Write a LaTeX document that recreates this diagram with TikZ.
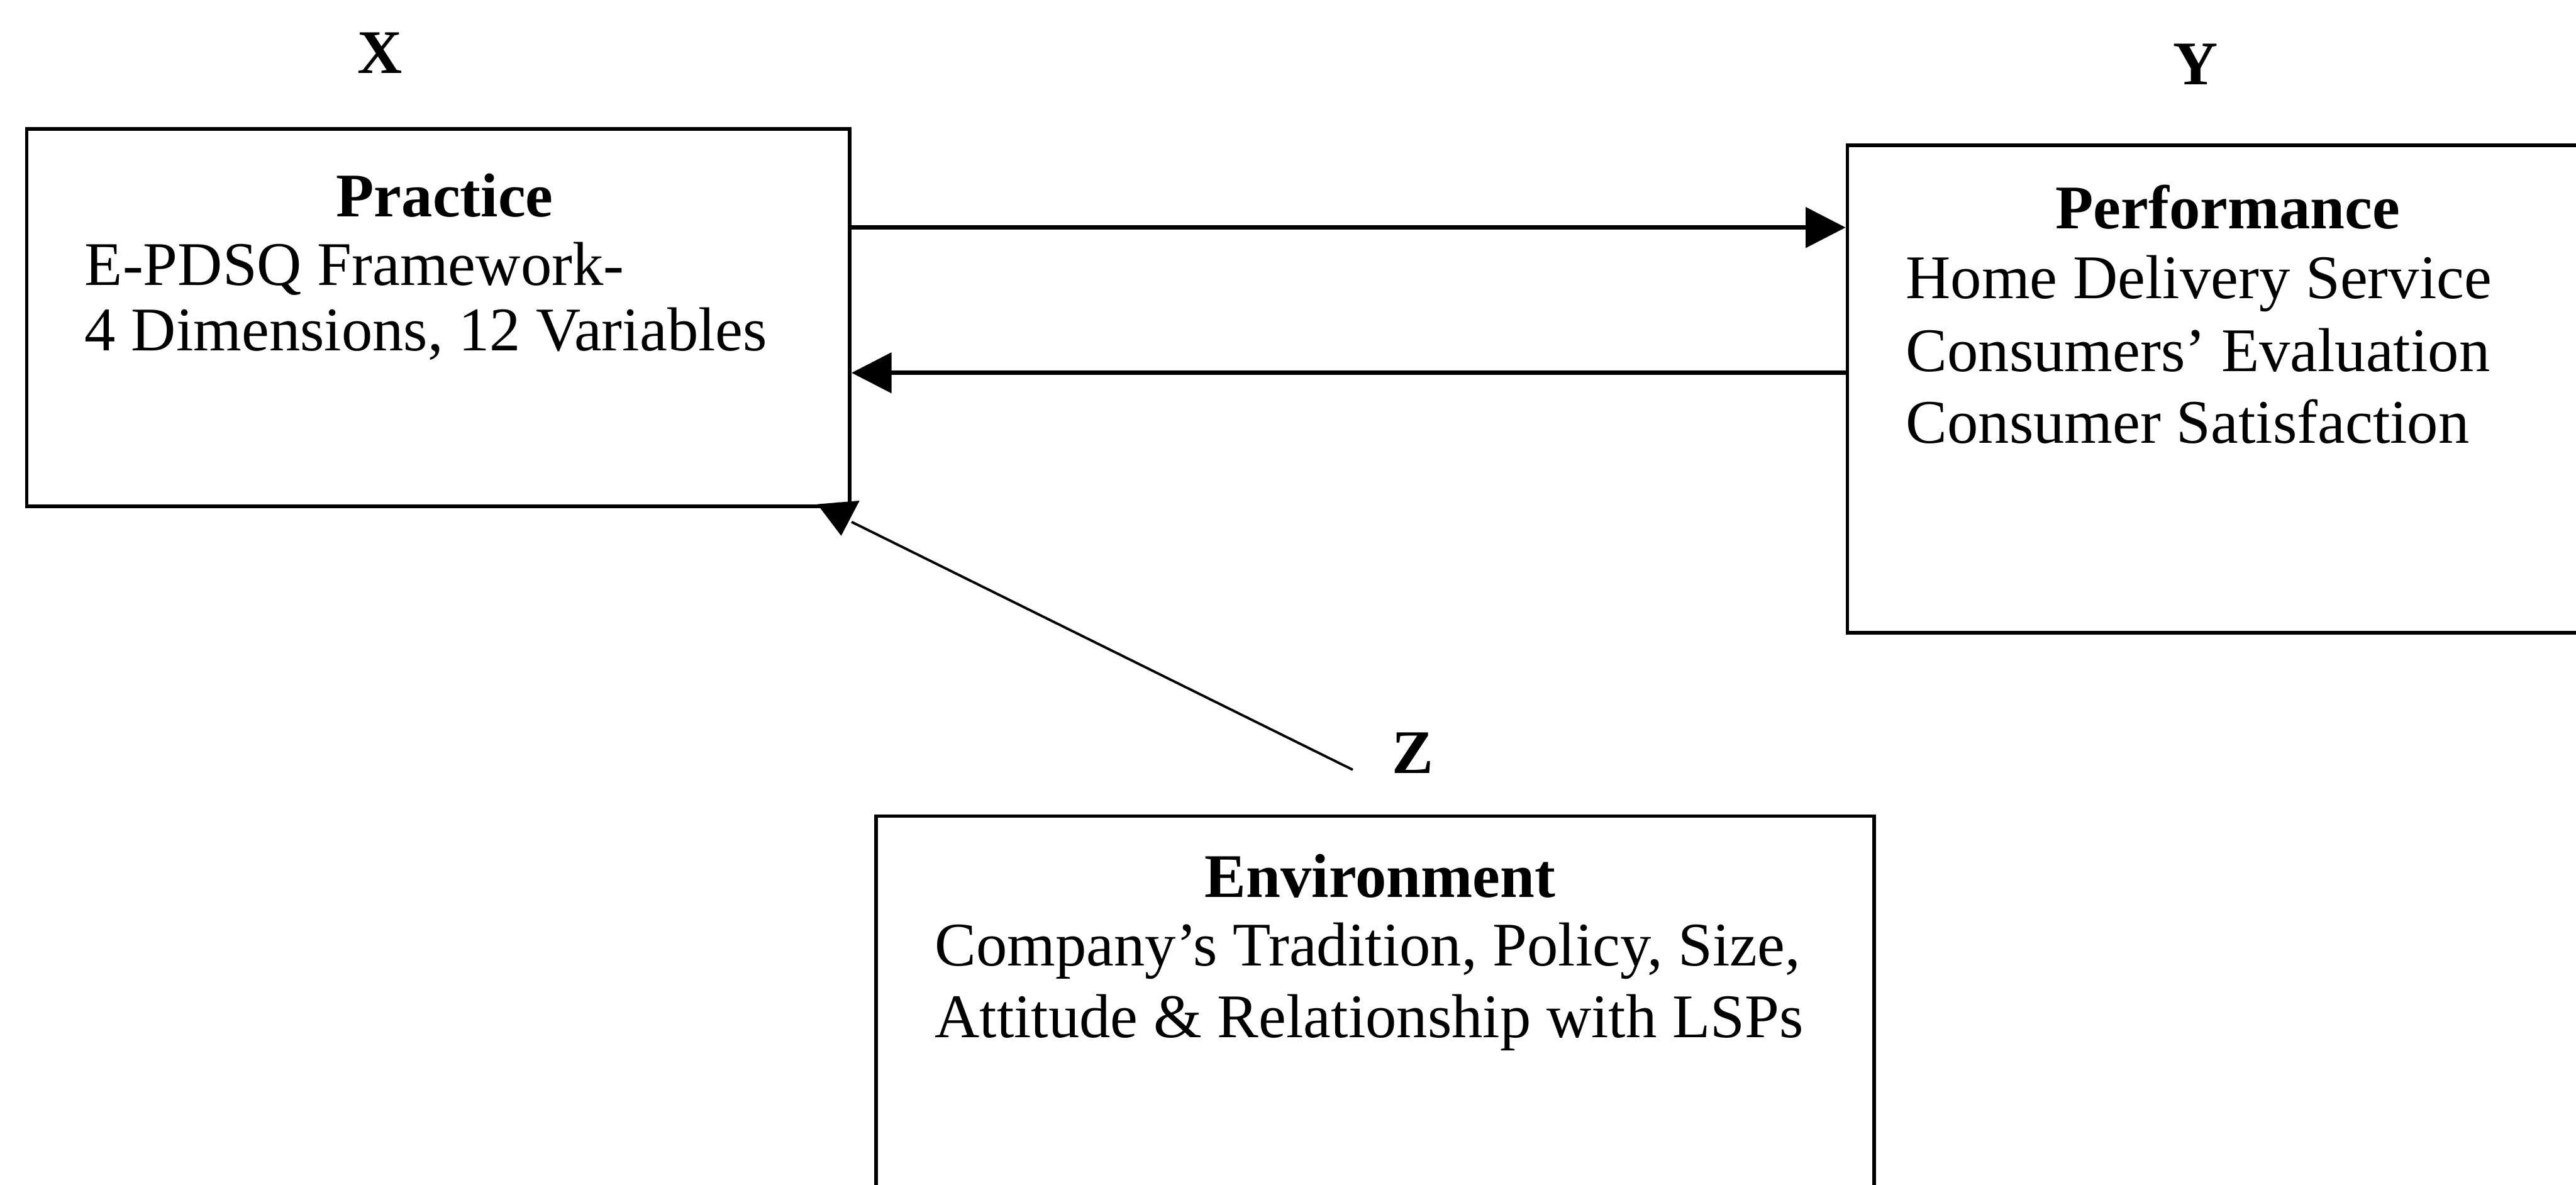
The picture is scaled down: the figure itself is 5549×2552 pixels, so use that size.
\documentclass[tikz,border=0pt]{standalone}
\usepackage{fontspec}
\setmainfont{Liberation Serif}
\usetikzlibrary{arrows.meta}
\begin{document}
\begin{tikzpicture}[x=0.01cm,y=-0.01cm,
  box/.style={draw, line width=2.2pt, inner sep=0pt, rectangle},
  txt/.style={inner sep=0pt, font=\fontsize{38}{44}\selectfont},
  head/.style={inner sep=0pt, font=\fontsize{38}{44}\selectfont\bfseries},
  flow/.style={line width=2.6pt, -{Triangle[length=0.86cm,width=0.86cm]}},
  link/.style={line width=1.5pt},
]
\useasboundingbox (0,0) rectangle (5549,2552);
\clip (0,0) rectangle (5549,2552);

% boxes
\node[box, minimum width=17.72cm, minimum height=8.12cm] (practice) at (944,684) {};
\node[box, minimum width=16.4cm, minimum height=10.5cm] (perf) at (4800,838) {};
\node[box, minimum width=21.48cm, minimum height=8.82cm] (env) at (2962,2199) {};

% variable labels
\node[head, anchor=base] (xlab) at (819,158) {X};
\node[head, anchor=base] (ylab) at (4730,182) {Y};
\node[head, anchor=base] (zlab) at (3043,1665) {Z};

% box contents
\node[head, anchor=base] (practiceT) at (958,467) {Practice};
\node[txt, anchor=base west] (practiceA) at (182,615) {E-PDSQ Framework-};
\node[txt, anchor=base west] (practiceB) at (182,755) {4 Dimensions, 12 Variables};

\node[head, anchor=base] (perfT) at (4799,492) {Performance};
\node[txt, anchor=base west] (perfA) at (4105,643) {Home Delivery Service};
\node[txt, anchor=base west] (perfB) at (4105,800) {Consumers’ Evaluation};
\node[txt, anchor=base west] (perfC) at (4105,954) {Consumer Satisfaction};

\node[head, anchor=base] (envT) at (2973,1933) {Environment};
\node[txt, anchor=base west] (envA) at (2013,2080) {Company’s Tradition, Policy, Size,};
\node[txt, anchor=base west] (envB) at (2013,2234) {Attitude \& Relationship with LSPs};

% connectors
\coordinate (upper) at (0,490);
\coordinate (lower) at (0,803);
\draw[flow] (practice.east |- upper) -- (perf.west |- upper);
\draw[flow] (perf.west |- lower) -- (practice.east |- lower);

\coordinate (zlead) at (2914,1658);
\coordinate (hbase) at (1806,1082);
\coordinate (htip) at (1812,1154);
\draw[link] (zlead) -- ([yshift=-0.3cm]practice.south east);
\draw[link, -{Triangle[length=0.72cm,width=0.9cm]}] (hbase) -- (htip);
\end{tikzpicture}
\end{document}
